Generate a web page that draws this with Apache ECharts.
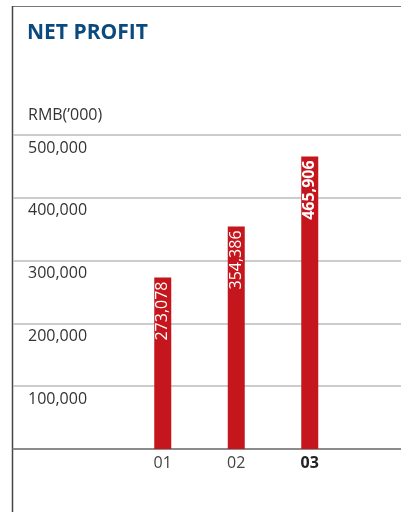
<!DOCTYPE html>
<html><head><meta charset="utf-8">
<script src="https://cdn.jsdelivr.net/npm/echarts@6/dist/echarts.min.js"></script>
<style>html,body{margin:0;padding:0;background:#fff}#c{width:401px;height:512px}</style>
</head><body><div id="c"></div>
<script>
const categories = ['01', '02', '03'];
const netProfit = [273078, 354386, 465906];
const yTicks = [0, 100000, 200000, 300000, 400000, 500000];
const titleText = 'NET PROFIT';
const unitText = "RMB(\u2019000)";

const fmt = v => v.toLocaleString('en-US');
const font = '"Open Sans", "Noto Sans", sans-serif';
const chart = echarts.init(document.getElementById('c'));
chart.setOption({
  animation: false,
  textStyle: { fontFamily: font },
  title: [
    { text: titleText, left: 27, top: 23, padding: 0,
      textStyle: { fontFamily: font, fontSize: 21, fontWeight: 'bold', color: '#0b4a7e' } },
    { text: unitText, left: 28, top: 107, padding: 0,
      textStyle: { fontFamily: font, fontSize: 16, fontWeight: 'normal', color: '#333' } }
  ],
  graphic: [
    { type: 'line', shape: { x1: 12.5, y1: 6.5, x2: 401, y2: 6.5 }, style: { stroke: '#777', lineWidth: 1 } },
    { type: 'line', shape: { x1: 12.5, y1: 6, x2: 12.5, y2: 512 }, style: { stroke: '#444', lineWidth: 1.5 } }
  ],
  grid: [
    { left: 13, right: 0, top: 135, bottom: 63 },
    { left: 126, width: 220.5, top: 135, bottom: 63 }
  ],
  xAxis: [
    { gridIndex: 0, type: 'category', data: [''], axisLine: { show: true, lineStyle: { color: '#777', width: 1.5 } },
      axisTick: { show: false }, axisLabel: { show: false } },
    { gridIndex: 1, type: 'category',
      data: categories.map((c, i) => i === categories.length - 1 ? { value: c, textStyle: { fontWeight: 'bold', color: '#222' } } : c),
      axisLine: { show: false }, axisTick: { show: false },
      axisLabel: { margin: 6, fontSize: 16, color: '#444', fontFamily: font } }
  ],
  yAxis: [
    { gridIndex: 0, type: 'value', min: yTicks[0], max: yTicks[yTicks.length - 1], interval: yTicks[1] - yTicks[0],
      axisLine: { show: false }, axisTick: { show: false },
      splitLine: { lineStyle: { color: '#bbb', width: 1.5 } },
      axisLabel: { inside: true, margin: 15, showMinLabel: false, verticalAlign: 'top', padding: [5, 0, 0, 0],
        fontSize: 16, color: '#333', fontFamily: font, formatter: v => fmt(v) } },
    { gridIndex: 1, type: 'value', min: yTicks[0], max: yTicks[yTicks.length - 1], interval: yTicks[1] - yTicks[0],
      show: false }
  ],
  series: [{
    type: 'bar', xAxisIndex: 1, yAxisIndex: 1, barWidth: 17,
    itemStyle: { color: '#c4161c' },
    data: netProfit.map((v, i) => i === netProfit.length - 1 ? { value: v, label: { fontWeight: 'bold' } } : v),
    label: { show: true, position: 'insideTop', rotate: 90, align: 'right', verticalAlign: 'middle', distance: 4,
      color: '#fff', fontSize: 16, fontFamily: font, formatter: p => fmt(p.value) }
  }]
});
</script></body></html>
